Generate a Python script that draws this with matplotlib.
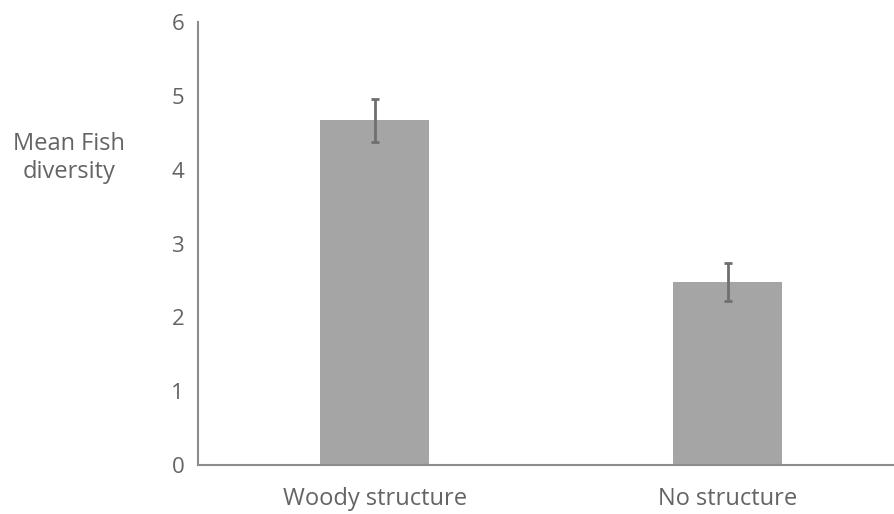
import matplotlib
matplotlib.use('Agg')
import matplotlib.pyplot as plt

categories = ['Woody structure', 'No structure']
means = [4.67, 2.48]
errors = [0.29, 0.26]
yticks = [0, 1, 2, 3, 4, 5, 6]

plt.rcParams['font.family'] = ['Open Sans', 'DejaVu Sans']

fig = plt.figure(figsize=(8.94, 5.14), dpi=100)
ax = fig.add_axes([0.2215, 0.0953, 0.79, 0.8617])

x = range(len(categories))
ax.bar(x, means, width=0.31, color='#a5a5a5', zorder=2)
ax.errorbar(x, means, yerr=errors, fmt='none', ecolor='#6f6f6f',
            elinewidth=2, capsize=3, capthick=2, zorder=3)

ax.set_xlim(-0.5, 1.5)
ax.set_ylim(0, 6)
ax.set_yticks(yticks)
ax.set_xticks(list(x))
ax.set_xticklabels(categories)
ax.tick_params(axis='both', length=0, labelsize=16, colors='#646464')
ax.tick_params(axis='x', labelsize=17, pad=16)
ax.tick_params(axis='y', pad=10)

for s in ['top', 'right']:
    ax.spines[s].set_visible(False)
for s in ['left', 'bottom']:
    ax.spines[s].set_color('#8c8c8c')
    ax.spines[s].set_linewidth(1.5)

fig.text(69 / 894, 1 - 158 / 514, 'Mean Fish\ndiversity', ha='center', va='center',
         fontsize=17, color='#646464', linespacing=1.25)

fig.savefig('out.png', dpi=100)
